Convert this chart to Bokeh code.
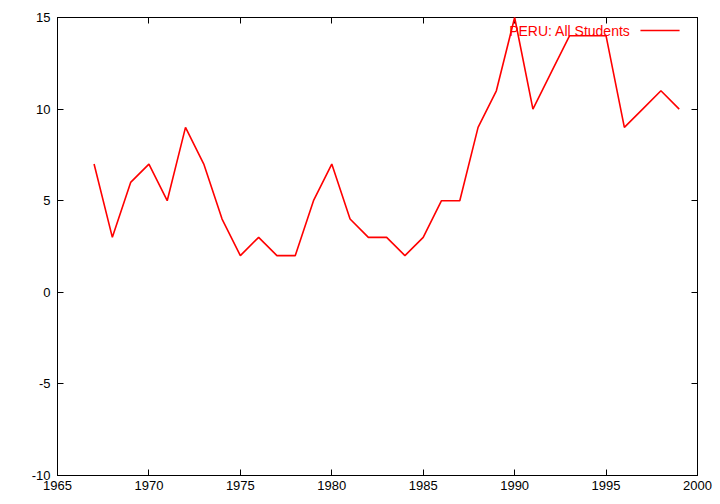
from bokeh.plotting import figure
from bokeh.models import Range1d, FixedTicker, LinearAxis, Label, Arrow
from bokeh.embed import file_html
from bokeh.resources import INLINE

years = list(range(1967, 2000))
values = [7, 3, 6, 7, 5, 9, 7, 4, 2, 3, 2, 2, 5, 7, 4, 3, 3, 2, 3, 5, 5, 9, 11, 15,
          10, 12, 14, 14, 14, 9, 10, 11, 10]
series_name = "PERU: All Students"
x_ticks = [1965, 1970, 1975, 1980, 1985, 1990, 1995, 2000]
y_ticks = [-10, -5, 0, 5, 10, 15]

FONT = "Liberation Sans"
FS = "13px"

p = figure(frame_width=640, frame_height=458, output_backend="svg", toolbar_location=None,
           x_range=Range1d(1965, 2000), y_range=Range1d(-10, 15),
           min_border_left=57, min_border_right=23, min_border_top=17, min_border_bottom=29,
           x_axis_location=None, y_axis_location=None)
p.xgrid.visible = False
p.ygrid.visible = False
p.outline_line_color = "black"
p.outline_line_alpha = 1.0
p.background_fill_color = "white"
p.border_fill_color = "white"

def style(ax, ticks, show_labels):
    ax.ticker = FixedTicker(ticks=ticks)
    ax.major_tick_in = 6
    ax.major_tick_out = 0
    ax.minor_tick_line_color = None
    ax.axis_line_color = "black"
    ax.major_tick_line_color = "black"
    ax.major_label_text_font = FONT
    ax.major_label_text_font_size = FS
    if show_labels:
        ax.major_label_text_color = "black"
        ax.major_label_standoff = 5
    else:
        ax.major_label_text_color = None
        ax.major_label_standoff = 0

bottom = LinearAxis(); style(bottom, x_ticks, True); p.add_layout(bottom, "below")
left = LinearAxis(); style(left, y_ticks, True); left.major_label_standoff = 7
left.major_label_overrides = {t: str(t) for t in y_ticks}
p.add_layout(left, "left")
top = LinearAxis(); style(top, x_ticks, False); p.add_layout(top, "above")
right = LinearAxis(); style(right, y_ticks, False); p.add_layout(right, "right")

p.line(years, values, line_color="red", line_width=1.6, level="overlay")

# gnuplot-style key: label then line sample on the right
p.add_layout(Label(x=1996.34, y=14.29, text=series_name, text_align="right",
                   text_baseline="middle", text_color="red", text_font=FONT,
                   text_font_size="14px"))
p.add_layout(Arrow(end=None, x_start=1996.88, y_start=14.29, x_end=1999.02, y_end=14.29,
                   line_color="red", line_width=1.6))

open("out.html", "w").write(file_html(p, INLINE))
